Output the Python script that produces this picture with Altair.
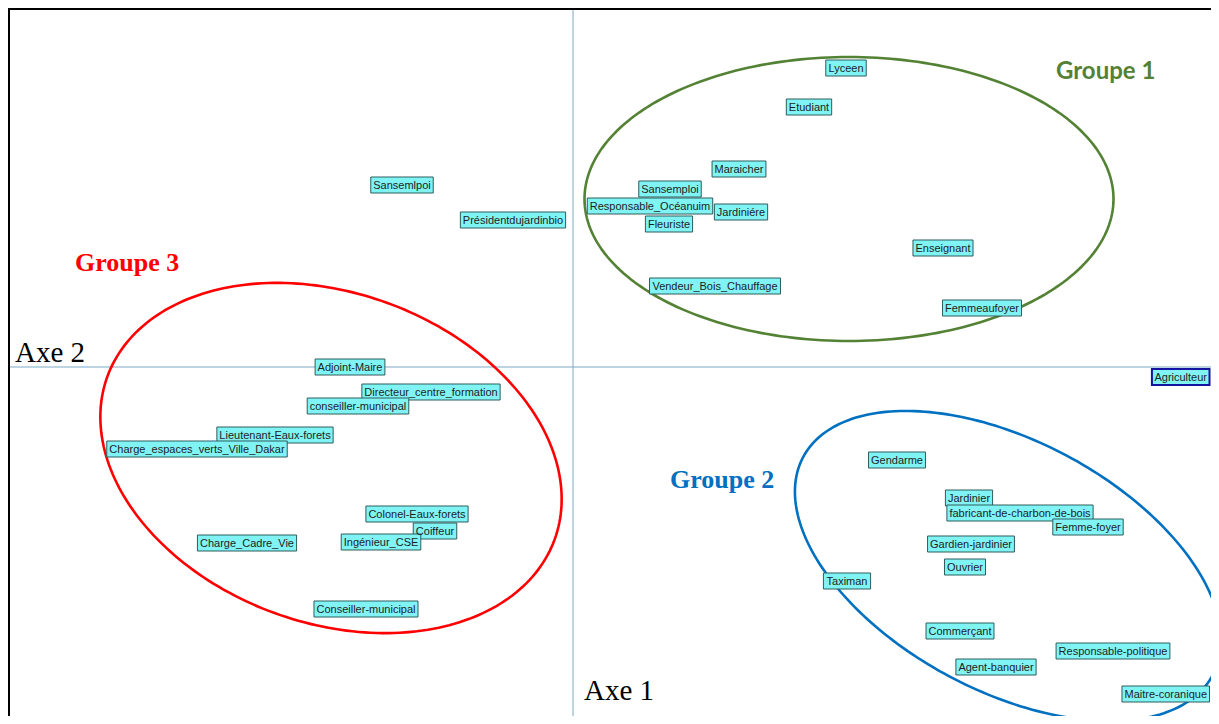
import altair as alt
import pandas as pd
import numpy as np

# ---- data: factor coordinates (Axe 1, Axe 2) of each modality ----
labels = [
    "Lyceen", "Etudiant", "Maraicher", "Sansemploi", "Responsable_Océanuim",
    "Jardiniére", "Fleuriste", "Enseignant", "Vendeur_Bois_Chauffage", "Femmeaufoyer",
    "Sansemlpoi", "Présidentdujardinbio",
    "Adjoint-Maire", "Directeur_centre_formation", "conseiller-municipal",
    "Lieutenant-Eaux-forets", "Charge_espaces_verts_Ville_Dakar", "Colonel-Eaux-forets",
    "Coiffeur", "Ingénieur_CSE", "Charge_Cadre_Vie", "Conseiller-municipal",
    "Agriculteur",
    "Gendarme", "Jardinier", "fabricant-de-charbon-de-bois", "Femme-foyer",
    "Gardien-jardinier", "Ouvrier", "Taximan", "Commerçant", "Agent-banquier",
    "Responsable-politique", "Maitre-coranique",
]
axe1 = [2.73, 2.36, 1.66, 0.97, 0.77, 1.68, 0.96, 3.70, 1.42, 4.09,
        -1.71, -0.60,
        -2.23, -1.42, -2.15, -2.98, -3.76, -1.56, -1.38, -1.92, -3.26, -2.07,
        6.14,
        3.24, 3.96, 4.47, 5.15, 3.98, 3.92, 2.74, 3.87, 4.23, 5.40, 5.99]
axe2 = [2.99, 2.60, 1.98, 1.78, 1.61, 1.55, 1.43, 1.19, 0.81, 0.59,
        1.82, 1.47,
        0.00, -0.25, -0.39, -0.68, -0.82, -1.47, -1.64, -1.75, -1.76, -2.42,
        -0.10,
        -0.93, -1.31, -1.46, -1.60, -1.77, -2.00, -2.14, -2.64, -3.00, -2.84, -3.27]
highlight = ["Agriculteur"]

# group ellipses: centre x, centre y, semi-axis a, semi-axis b, angle (deg)
groups = ["Groupe 1", "Groupe 2", "Groupe 3"]
ell_cx = [2.76, 4.35, -2.42]
ell_cy = [1.68, -1.99, -0.91]
ell_a = [2.645, 2.32, 2.38]
ell_b = [1.42, 1.25, 1.65]
ell_angle = [0, -28, -20]
group_colors = ["#548235", "#0070C0", "#FF0000"]
group_lab_x = [4.83, 0.97, -4.98]
group_lab_y = [2.88, -1.21, 0.96]

axis_titles = ["Axe 1", "Axe 2"]
axis_title_x = [0.11, -5.58]
axis_title_y = [-3.33, 0.05]

# ---- layout ----
W, H = 1203, 708
X0, X1 = -5.65, -5.65 + W / 100.0
Y1 = 3.59
Y0 = Y1 - H / 100.0
PX = W / (X1 - X0)
PY = H / (Y1 - Y0)

ARIAL = {
    'a': 556, 'b': 556, 'c': 500, 'd': 556, 'e': 556, 'f': 278, 'g': 556, 'h': 556,
    'i': 222, 'j': 222, 'k': 500, 'l': 222, 'm': 833, 'n': 556, 'o': 556, 'p': 556,
    'q': 556, 'r': 333, 's': 500, 't': 278, 'u': 556, 'v': 500, 'w': 722, 'x': 500,
    'y': 500, 'z': 500, 'é': 556, 'ç': 500,
    'A': 667, 'B': 667, 'C': 722, 'D': 722, 'E': 667, 'F': 611, 'G': 778, 'H': 722,
    'I': 278, 'J': 500, 'K': 667, 'L': 556, 'M': 833, 'N': 722, 'O': 778, 'P': 667,
    'Q': 778, 'R': 722, 'S': 667, 'T': 611, 'U': 722, 'V': 667, 'W': 944, 'X': 667,
    'Y': 667, 'Z': 611, '_': 556, '-': 333, ' ': 278,
}


def text_px(s, size=11):
    return sum(ARIAL.get(c, 556) for c in s) * size / 1000.0


boxes = pd.DataFrame({"label": labels, "x": axe1, "y": axe2})
half_w = np.array([(text_px(s) / 2 + 2.5) / PX for s in labels])
# keep each label box inside the plot (labels near the right edge are nudged in)
right_lim = X1 - 1.5 / PX
boxes["lx"] = np.minimum(boxes["x"].to_numpy(), right_lim - half_w)
boxes["x1"] = boxes["lx"] - half_w
boxes["x2"] = boxes["lx"] + half_w
boxes["y1"] = boxes["y"] - 8 / PY
boxes["y2"] = boxes["y"] + 8 / PY
boxes["stroke"] = ["#1414A0" if s in highlight else "#2F5C5C" for s in labels]
boxes["sw"] = [2.0 if s in highlight else 1.0 for s in labels]

ell_rows = []
t = np.linspace(0, 2 * np.pi, 241)
for g, cx, cy, a, b, ang in zip(groups, ell_cx, ell_cy, ell_a, ell_b, ell_angle):
    th = np.deg2rad(ang)
    ex = cx + a * np.cos(t) * np.cos(th) - b * np.sin(t) * np.sin(th)
    ey = cy + a * np.cos(t) * np.sin(th) + b * np.sin(t) * np.cos(th)
    for i, (u, v) in enumerate(zip(ex, ey)):
        ell_rows.append({"group": g, "i": i, "x": u, "y": v})
ell = pd.DataFrame(ell_rows)

xsc = alt.Scale(domain=[X0, X1], nice=False, zero=False)
ysc = alt.Scale(domain=[Y0, Y1], nice=False, zero=False)
colsc = alt.Scale(domain=groups, range=group_colors)

vline = alt.Chart(pd.DataFrame({"x": [0.0]})).mark_rule(
    color="#7FA9C4", strokeWidth=1).encode(x=alt.X("x:Q", scale=xsc, axis=None))
hline = alt.Chart(pd.DataFrame({"y": [0.0]})).mark_rule(
    color="#7FA9C4", strokeWidth=1).encode(y=alt.Y("y:Q", scale=ysc, axis=None))
top_border = alt.Chart(pd.DataFrame({"y": [Y1 - 1 / PY]})).mark_rule(
    color="black", strokeWidth=2).encode(y=alt.Y("y:Q", scale=ysc, axis=None))
left_border = alt.Chart(pd.DataFrame({"x": [X0 + 1 / PX]})).mark_rule(
    color="black", strokeWidth=2).encode(x=alt.X("x:Q", scale=xsc, axis=None))

ellipses = alt.Chart(ell).mark_line(strokeWidth=2.6, clip=True).encode(
    x=alt.X("x:Q", scale=xsc, axis=None),
    y=alt.Y("y:Q", scale=ysc, axis=None),
    color=alt.Color("group:N", scale=colsc, legend=None),
    detail="group:N",
    order="i:Q",
)

rects = alt.Chart(boxes).mark_rect(fill="#80F4F4", clip=True).encode(
    x=alt.X("x1:Q", scale=xsc, axis=None), x2="x2:Q",
    y=alt.Y("y1:Q", scale=ysc, axis=None), y2="y2:Q",
    stroke=alt.Stroke("stroke:N", scale=None),
    strokeWidth=alt.StrokeWidth("sw:Q", scale=None),
)
texts = alt.Chart(boxes).mark_text(
    font="Liberation Sans", fontSize=11, color="#1E1E1E", align="center", baseline="middle", dy=0.5
).encode(
    x=alt.X("lx:Q", scale=xsc, axis=None),
    y=alt.Y("y:Q", scale=ysc, axis=None),
    text="label:N",
)

gl = pd.DataFrame({"group": groups, "x": group_lab_x, "y": group_lab_y})
glab1 = alt.Chart(gl[gl.group == "Groupe 1"]).mark_text(
    font="Lato", fontWeight="bold", fontSize=24, align="left", baseline="alphabetic"
).encode(x=alt.X("x:Q", scale=xsc, axis=None), y=alt.Y("y:Q", scale=ysc, axis=None),
         text="group:N", color=alt.Color("group:N", scale=colsc, legend=None))
glab23 = alt.Chart(gl[gl.group != "Groupe 1"]).mark_text(
    font="Liberation Serif", fontWeight="bold", fontSize=26, align="left", baseline="alphabetic"
).encode(x=alt.X("x:Q", scale=xsc, axis=None), y=alt.Y("y:Q", scale=ysc, axis=None),
         text="group:N", color=alt.Color("group:N", scale=colsc, legend=None))

at = pd.DataFrame({"t": axis_titles, "x": axis_title_x, "y": axis_title_y})
atitles = alt.Chart(at).mark_text(
    font="Liberation Serif", fontSize=29, color="black", align="left", baseline="alphabetic"
).encode(x=alt.X("x:Q", scale=xsc, axis=None), y=alt.Y("y:Q", scale=ysc, axis=None), text="t:N")

chart = alt.layer(
    vline, hline, top_border, left_border, ellipses, rects, texts, glab1, glab23, atitles
).properties(width=W, height=H, padding=0, autosize=alt.AutoSizeParams(type="none")).configure_view(
    stroke=None
).configure(background="white")

chart.save("out.html", embed_options={"renderer": "svg", "actions": False})
